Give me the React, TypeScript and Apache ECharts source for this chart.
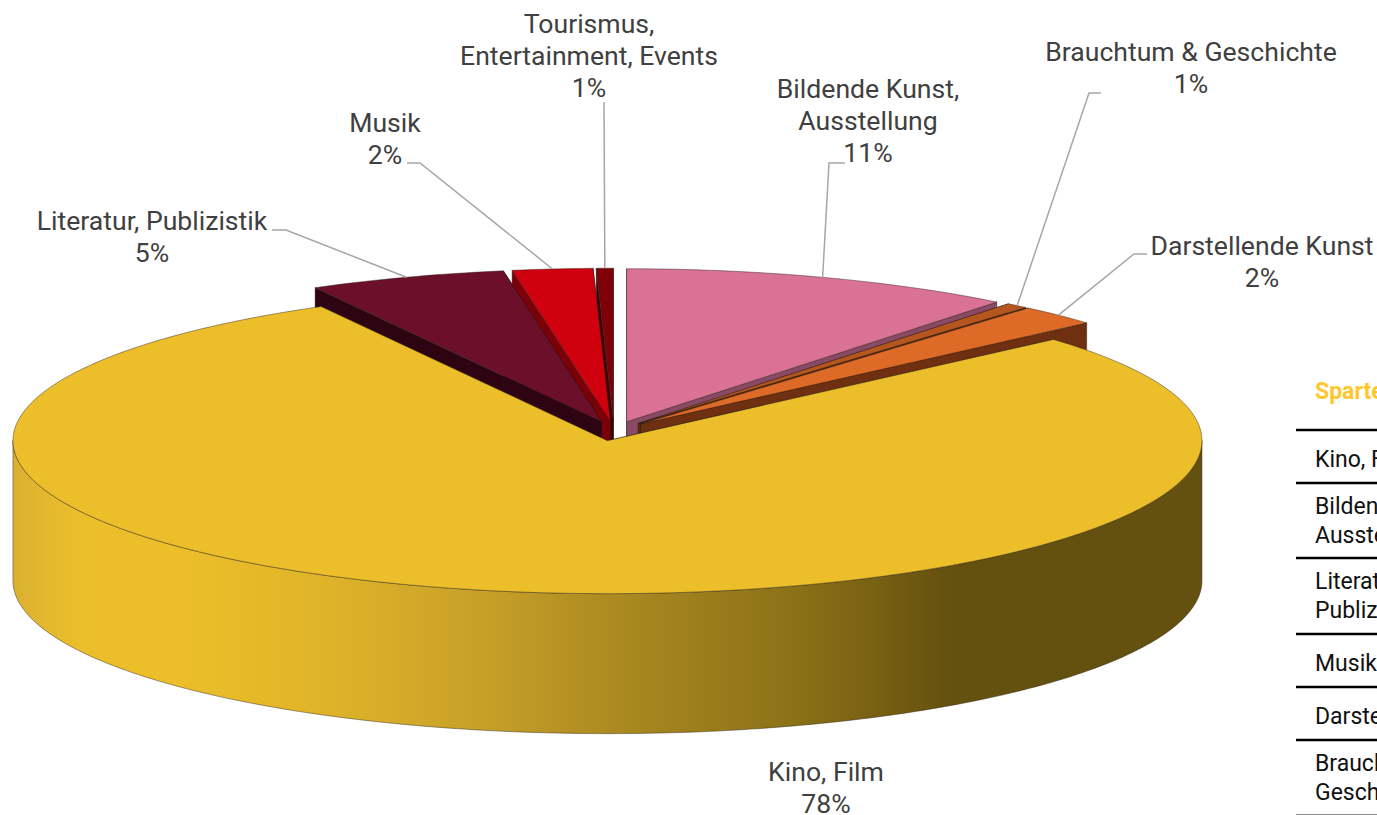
import React, { useEffect, useRef } from "react";
import * as echarts from "echarts";

const categories = [
  "Bildende Kunst,\nAusstellung",
  "Brauchtum & Geschichte",
  "Darstellende Kunst",
  "Kino, Film",
  "Literatur, Publizistik",
  "Musik",
  "Tourismus,\nEntertainment, Events",
];
const shares = [10.7, 0.6, 2.2, 78.5, 5.36, 2.18, 0.46];
const percentLabels = ["11%", "1%", "2%", "78%", "5%", "2%", "1%"];
const topColors = ["#D97294", "#B5561F", "#DE6A28", "#ECBE29", "#6B0F2B", "#D0000F", "#7F0007"];
const sideColors = ["#8A4A66", "#5A2A0C", "#6E3010", "#66510F", "#2E0312", "#7D0008", "#400003"];
const labelAnchors = [
  { x: 868, y: 120, path: [[845, 163], [829, 163]] },
  { x: 1191, y: 67, path: [[1101, 93], [1089, 93]] },
  { x: 1262, y: 261, path: [[1147, 254], [1134, 254]] },
  { x: 826, y: 787, path: [] },
  { x: 152, y: 236, path: [[272, 230], [286, 230]] },
  { x: 385, y: 138, path: [[407, 163], [420, 163]] },
  { x: 589, y: 55, path: [[604, 102]] },
];
const paintOrder = [6, 5, 4, 0, 1, 2, 3];

const tableHeader = "Sparte";
const tableRows = ["Kino, Film", "Bildende Kunst,\nAusstellung", "Literatur,\nPublizistik", "Musik", "Darstellende Kunst", "Brauchtum &\nGeschichte"];
const tableRules = [430, 483, 558, 634, 687, 740, 815];

const CX = 614, CY = 431, RX = 594.5, RY = 153, DEPTH = 140, EXPLODE = 0.064;
const FONT = "Roboto";

const total = shares.reduce((a, b) => a + b, 0);
const rad = (d: number) => (d * Math.PI) / 180;
const angles: { a0: number; a1: number }[] = [];
shares.reduce((acc, s) => {
  const a1 = acc + (s / total) * 360;
  angles.push({ a0: acc, a1 });
  return a1;
}, 0);

function project(ax: number, ay: number, t: number): [number, number] {
  return [ax + RX * Math.sin(rad(t)), ay - RY * Math.cos(rad(t))];
}
function arcPts(ax: number, ay: number, a0: number, a1: number): [number, number][] {
  const n = Math.max(2, Math.ceil(Math.abs(a1 - a0)));
  const out: [number, number][] = [];
  for (let i = 0; i <= n; i++) out.push(project(ax, ay, a0 + ((a1 - a0) * i) / n));
  return out;
}

const kinoSide = new echarts.graphic.LinearGradient(
  12, 0, 1201, 0,
  [
    { offset: 0, color: "#D9B030" },
    { offset: 0.03, color: "#E4B92E" },
    { offset: 0.06, color: "#EBBE2A" },
    { offset: 0.14, color: "#ECBE29" },
    { offset: 0.26, color: "#E0B429" },
    { offset: 0.4, color: "#C69F28" },
    { offset: 0.54, color: "#A4841E" },
    { offset: 0.64, color: "#8F7418" },
    { offset: 0.72, color: "#7A6213" },
    { offset: 0.79, color: "#64500F" },
    { offset: 1, color: "#64500F" },
  ],
  true
);

function renderSlice(params: any) {
  const i = paintOrder[params.dataIndex];
  const { a0, a1 } = angles[i];
  const mid = (a0 + a1) / 2;
  const ax = CX + EXPLODE * RX * Math.sin(rad(mid));
  const ay = CY - EXPLODE * RY * Math.cos(rad(mid));
  const children: any[] = [];
  const edge = { stroke: "rgba(40,30,20,0.55)", lineWidth: 0.8 };
  const radialFace = (t: number) => {
    const [px, py] = project(ax, ay, t);
    children.push({
      type: "polygon",
      shape: { points: [[ax, ay], [px, py], [px, py + DEPTH], [ax, ay + DEPTH]] },
      style: { fill: sideColors[i], ...edge },
    });
  };
  radialFace(a0);
  radialFace(a1);
  const s0 = Math.max(a0, 90), s1 = Math.min(a1, 270);
  if (s1 > s0) {
    const top = arcPts(ax, ay, s0, s1);
    const bottom = top.map(([x, y]) => [x, y + DEPTH]).reverse();
    children.push({
      type: "polygon",
      shape: { points: [...top, ...bottom] },
      style: { fill: i === 3 ? kinoSide : sideColors[i], ...edge },
    });
  }
  children.push({
    type: "polygon",
    shape: { points: [[ax, ay], ...arcPts(ax, ay, a0, a1)] },
    style: { fill: topColors[i], ...edge },
  });
  return { type: "group", children };
}

function renderLabel(params: any) {
  const i = params.dataIndex;
  const { a0, a1 } = angles[i];
  const mid = (a0 + a1) / 2;
  const ax = CX + EXPLODE * RX * Math.sin(rad(mid));
  const ay = CY - EXPLODE * RY * Math.cos(rad(mid));
  const anchor = labelAnchors[i];
  const children: any[] = [];
  if (anchor.path.length) {
    children.push({
      type: "polyline",
      shape: { points: [...anchor.path, project(ax, ay, mid)] },
      style: { fill: "none", stroke: "#A6A6A6", lineWidth: 1.5 },
    });
  }
  children.push({
    type: "text",
    style: {
      x: anchor.x,
      y: anchor.y,
      text: `${categories[i]}\n${percentLabels[i]}`,
      textAlign: "center",
      textVerticalAlign: "middle",
      fontFamily: FONT,
      fontSize: 26.6,
      lineHeight: 32,
      fill: "#404040",
    },
  });
  return { type: "group", children };
}

const tableGraphics = () => {
  const els: any[] = [
    {
      type: "text",
      style: { x: 1315, y: 391, text: tableHeader, textVerticalAlign: "middle", fontFamily: FONT, fontSize: 23, fontWeight: 700, fill: "#FFC72C" },
    },
  ];
  tableRules.forEach((y, k) => {
    const last = k === tableRules.length - 1;
    els.push({
      type: "line",
      shape: { x1: 1296, y1: y, x2: 1377, y2: y },
      style: { stroke: last ? "#666666" : "#000000", lineWidth: last ? 1.5 : 2.5 },
    });
  });
  tableRows.forEach((t, k) => {
    els.push({
      type: "text",
      style: {
        x: 1315,
        y: (tableRules[k] + tableRules[k + 1]) / 2 + (t.includes("\n") ? 0 : 3),
        text: t,
        textVerticalAlign: "middle",
        fontFamily: FONT,
        fontSize: 23,
        lineHeight: 29,
        fill: "#111111",
      },
    });
  });
  return els;
};

export default function App() {
  const ref = useRef<HTMLDivElement>(null);
  useEffect(() => {
    document.body.style.margin = "0";
    document.body.style.overflow = "hidden";
    const chart = echarts.init(ref.current!, null, { renderer: "svg" });
    chart.setOption({
      animation: false,
      backgroundColor: "#FFFFFF",
      graphic: tableGraphics(),
      series: [
        {
          type: "custom",
          coordinateSystem: "none",
          silent: true,
          data: paintOrder.map((i) => shares[i]),
          renderItem: renderSlice,
          z: 2,
        },
        {
          type: "custom",
          coordinateSystem: "none",
          silent: true,
          data: shares,
          renderItem: renderLabel,
          z: 3,
        },
      ],
    });
    return () => chart.dispose();
  }, []);
  return <div ref={ref} style={{ width: 1377, height: 815, overflow: "hidden" }} />;
}
